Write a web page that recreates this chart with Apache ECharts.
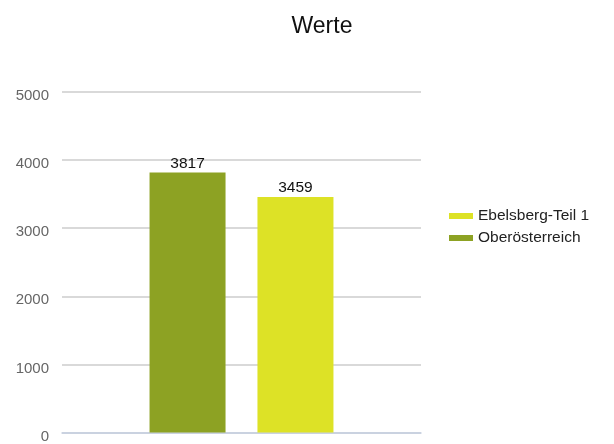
<!DOCTYPE html>
<html><head><meta charset="utf-8">
<script src="https://cdn.jsdelivr.net/npm/echarts@6/dist/echarts.min.js"></script>
<style>html,body{margin:0;padding:0;background:#fff}#c{width:614px;height:444px}</style>
</head><body><div id="c"></div>
<script>
const categories = [''];
const seriesNames = ['Oberösterreich', 'Ebelsberg-Teil 1'];
const oberoesterreich = [3817];
const ebelsberg = [3459];
const legendOrder = ['Ebelsberg-Teil 1', 'Oberösterreich'];
const yTicks = [0, 1000, 2000, 3000, 4000, 5000];

const chart = echarts.init(document.getElementById('c'), null, {renderer: 'canvas'});
const font = 'Liberation Sans';
const label = {show: true, position: 'top', color: '#111', fontSize: 15.5, fontFamily: font, distance: 1};
chart.setOption({
  animation: false,
  title: {text: 'Werte', left: 317, top: 10, textAlign: 'center',
    textStyle: {fontSize: 23, fontWeight: 'normal', color: '#111', fontFamily: font}},
  legend: {data: legendOrder, orient: 'vertical', left: 444, top: 203, itemWidth: 24, itemHeight: 6,
    itemGap: 6, icon: 'rect', textStyle: {fontSize: 15.5, color: '#222', fontFamily: font}},
  grid: {left: 62, right: 193, top: 92, bottom: 8, containLabel: false},
  xAxis: {type: 'category', data: categories, axisTick: {show: false}, axisLabel: {show: false},
    axisLine: {lineStyle: {color: '#c5d0e2', width: 1.5}}},
  yAxis: {type: 'value', min: yTicks[0], max: yTicks[yTicks.length - 1], interval: 1000,
    axisLabel: {color: '#666', fontSize: 15, fontFamily: font, margin: 13,
      formatter: v => '{a|' + v + '}',
      rich: {a: {color: '#666', fontSize: 15, fontFamily: font, padding: [8, 0, 0, 0]}}},
    splitLine: {lineStyle: {color: '#cccccc', width: 1.5}}, axisLine: {show: false}, axisTick: {show: false}},
  series: [
    {name: seriesNames[0], type: 'bar', data: oberoesterreich, barWidth: 76, barGap: '42%',
      itemStyle: {color: '#8da223'}, label: label},
    {name: seriesNames[1], type: 'bar', data: ebelsberg, barWidth: 76,
      itemStyle: {color: '#dde226'}, label: label}
  ]
});
</script></body></html>
